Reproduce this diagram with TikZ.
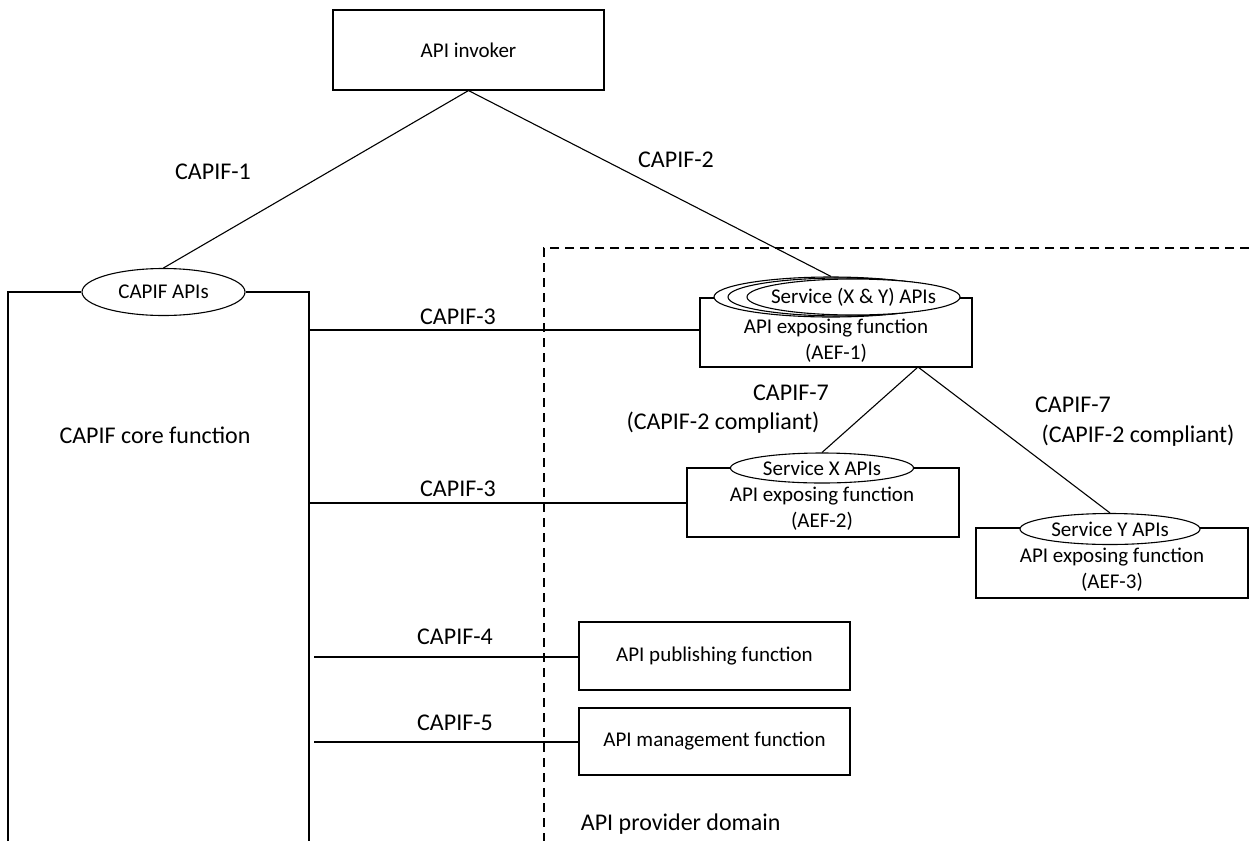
\documentclass[tikz,border=0pt]{standalone}
\usepackage{fontspec}
\setmainfont{Carlito}
\usetikzlibrary{shapes.geometric}
\begin{document}
\begin{tikzpicture}[x=1pt,y=-1pt, line width=1.1pt,
 box/.style={draw, rectangle, inner sep=0pt, fill=white},
 oval/.style={draw, ellipse, inner sep=0pt, fill=white},
 bt/.style={font=\fontsize{21}{26}\selectfont, align=center},
 lbl/.style={font=\fontsize{24}{31}\selectfont, align=center},
 dash line/.style={dash pattern=on 9pt off 6pt}]
\useasboundingbox (0,0) rectangle (1249,841);

% API invoker
\node[box, minimum width=271pt, minimum height=80pt, bt] (inv) at (468.5,50) {API invoker};

% CAPIF core function
\node[oval, minimum width=163pt, minimum height=47pt, bt] (capis) at (163.5,292) {CAPIF APIs};
\coordinate (cl) at (8,292);
\coordinate (cr) at (309,292);
\coordinate (clb) at (8,841);
\coordinate (crb) at (309,841);
\draw (clb) -- (cl) -- (capis.west);
\draw (capis.east) -- (cr) -- (crb);
\node[lbl] (corelbl) at (155,435) {CAPIF core function};

% provider domain
\coordinate (d1) at (1249,248);
\coordinate (d2) at (544,248);
\coordinate (d3) at (544,841);
\draw[dash line] (d1) -- (d2) -- (d3);
\node[lbl, anchor=west] (pdom) at (577,824) {API provider domain};

% AEF-1
\node[box, minimum width=272pt, minimum height=69pt] (aef1) at (836,332.5) {};
\node[oval, minimum width=234pt, minimum height=40pt] (e1a) at (831,297) {};
\node[oval, minimum width=226pt, minimum height=38pt] (e1b) at (841,297) {};
\node[oval, minimum width=213pt, minimum height=36pt] (e1c) at (853.5,297) {};
\node[bt] (e1t) at (e1c.center) {Service (X \& Y) APIs};
\node[bt] (aef1t) at (836,340.5) {API exposing function\\(AEF-1)};

% AEF-2
\node[box, minimum width=272pt, minimum height=69pt] (aef2) at (823,502.5) {};
\node[oval, minimum width=183pt, minimum height=30pt] (sx) at (822,468) {};
\node[bt] (sxt) at (sx.center) {Service X APIs};
\node[bt] (aef2t) at (822,508.5) {API exposing function\\(AEF-2)};

% AEF-3
\node[box, minimum width=272pt, minimum height=70pt] (aef3) at (1112,563) {};
\node[oval, minimum width=180pt, minimum height=31pt] (sy) at (1110,529) {};
\node[bt] (syt) at (sy.center) {Service Y APIs};
\node[bt] (aef3t) at (1112,570) {API exposing function\\(AEF-3)};

% publishing / management
\node[box, minimum width=271pt, minimum height=68pt, bt] (pub) at (714.5,656) {API publishing function};
\node[box, minimum width=271pt, minimum height=67pt, bt] (mgmt) at (714.5,741.5) {API management function};

% connectors
\draw (inv.south) -- (capis.north);
\draw (inv.south) -- (e1a.north);
\coordinate (c3a) at (309,330);
\coordinate (c3b) at (309,503);
\coordinate (c4) at (314,657);
\coordinate (c5) at (314,742);
\draw (c3a) -- (aef1.west |- c3a);
\draw (c3b) -- (aef2.west |- c3b);
\draw (c4) -- (pub.west |- c4);
\draw (c5) -- (mgmt.west |- c5);
\coordinate (ap) at (918,367);
\draw (sx.north) -- (ap) -- (sy.north);

% labels
\node[lbl] (l1) at (213,172) {CAPIF-1};
\node[lbl] (l2) at (676,160) {CAPIF-2};
\node[lbl] (l3a) at (458,317) {CAPIF-3};
\node[lbl] (l3b) at (458,489) {CAPIF-3};
\node[lbl] (l4) at (455,637) {CAPIF-4};
\node[lbl] (l5) at (455,723) {CAPIF-5};
\node[lbl] (l7a) at (791,393) {CAPIF-7};
\node[lbl] (l7ac) at (723,423) {(CAPIF-2 compliant)};
\node[lbl] (l7b) at (1073,405) {CAPIF-7};
\node[lbl] (l7bc) at (1138,436) {(CAPIF-2 compliant)};
\end{tikzpicture}
\end{document}
